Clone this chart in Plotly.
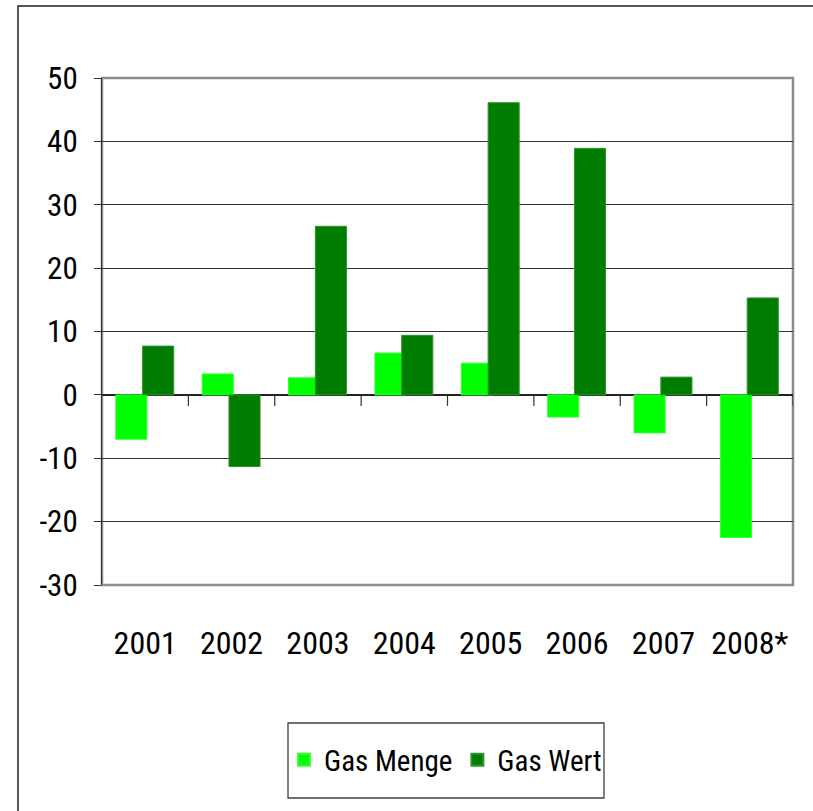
import plotly.graph_objects as go

years = ["2001", "2002", "2003", "2004", "2005", "2006", "2007", "2008*"]
gas_menge = [-7.0, 3.3, 2.7, 6.6, 5.0, -3.5, -6.0, -22.5]
gas_wert = [7.7, -11.3, 26.6, 9.4, 46.1, 38.9, 2.8, 15.3]
y_ticks = [-30, -20, -10, 0, 10, 20, 30, 40, 50]
y_tick_text = ["-30", "-20", "-10", "0", "10", "20", "30", "40", "50"]

W, H = 813, 811
L, R, T, B = 102, 20, 78, 226
pw, ph = W - L - R, H - T - B

def px_to_paper_x(px):
    return (px - L) / pw

def px_to_paper_y(py):
    return (H - B - py) / ph

FONT = "Liberation Sans Narrow, Arial Narrow, Roboto Condensed, Liberation Sans, Arial, sans-serif"

fig = go.Figure()
fig.add_trace(go.Bar(
    x=years, y=gas_menge, name="Gas Menge",
    marker=dict(color="#00FF00", line=dict(color="#33ff33", width=1)),
    offset=-0.34, width=0.36,
))
fig.add_trace(go.Bar(
    x=years, y=gas_wert, name="Gas Wert",
    marker=dict(color="#007D00", line=dict(color="#2f942f", width=1)),
    offset=-0.03, width=0.36,
))

shapes = []
# plot area border (gray)
shapes.append(dict(type="rect", xref="paper", yref="paper", x0=0, x1=1, y0=0, y1=1,
                   line=dict(color="#8c8c8c", width=2.5), layer="below"))
# outer frame
shapes.append(dict(type="rect", xref="paper", yref="paper",
                   x0=px_to_paper_x(18), x1=px_to_paper_x(W + 30),
                   y0=px_to_paper_y(H + 30), y1=px_to_paper_y(6),
                   line=dict(color="#222222", width=1.5), layer="below"))
# legend frame
shapes.append(dict(type="rect", xref="paper", yref="paper",
                   x0=px_to_paper_x(288), x1=px_to_paper_x(604),
                   y0=px_to_paper_y(798), y1=px_to_paper_y(723),
                   line=dict(color="#404040", width=1.3), layer="below"))
# category boundary tick marks on the zero line
for i in range(len(years)):
    shapes.append(dict(type="line", xref="x", yref="y", ysizemode="pixel", yanchor=0,
                       x0=i + 0.5, x1=i + 0.5, y0=0, y1=-11,
                       line=dict(color="#333333", width=1.2)))

fig.update_layout(
    width=W, height=H,
    margin=dict(l=L, r=R, t=T, b=B, autoexpand=False),
    paper_bgcolor="white", plot_bgcolor="white",
    barmode="overlay",
    font=dict(family=FONT, size=30, color="black"),
    showlegend=True,
    legend=dict(orientation="h", x=px_to_paper_x(284), xanchor="left",
                y=px_to_paper_y(760), yanchor="middle",
                bgcolor="rgba(0,0,0,0)", borderwidth=0,
                font=dict(family=FONT, size=29, color="black"),
                itemsizing="constant", tracegroupgap=0,
                traceorder="normal"),
    shapes=shapes,
    xaxis=dict(
        type="category", range=[-0.5, len(years) - 0.5],
        showgrid=False, showline=False, zeroline=False,
        ticks="", ticklabelstandoff=36,
        tickfont=dict(family=FONT, size=32, color="black"),
    ),
    yaxis=dict(
        range=[-30, 50], tickvals=y_ticks, ticktext=y_tick_text,
        showgrid=True, gridcolor="#333333", gridwidth=1,
        zeroline=True, zerolinecolor="#222222", zerolinewidth=1.5,
        showline=True, linecolor="#333333", linewidth=1.2,
        ticks="outside", ticklen=7, tickcolor="#333333", tickwidth=1.2,
        ticklabelstandoff=10,
        tickfont=dict(family=FONT, size=31, color="black"),
    ),
)

fig.write_html("out.html", config={"displayModeBar": False},
               post_script="document.body.style.margin='0';")
